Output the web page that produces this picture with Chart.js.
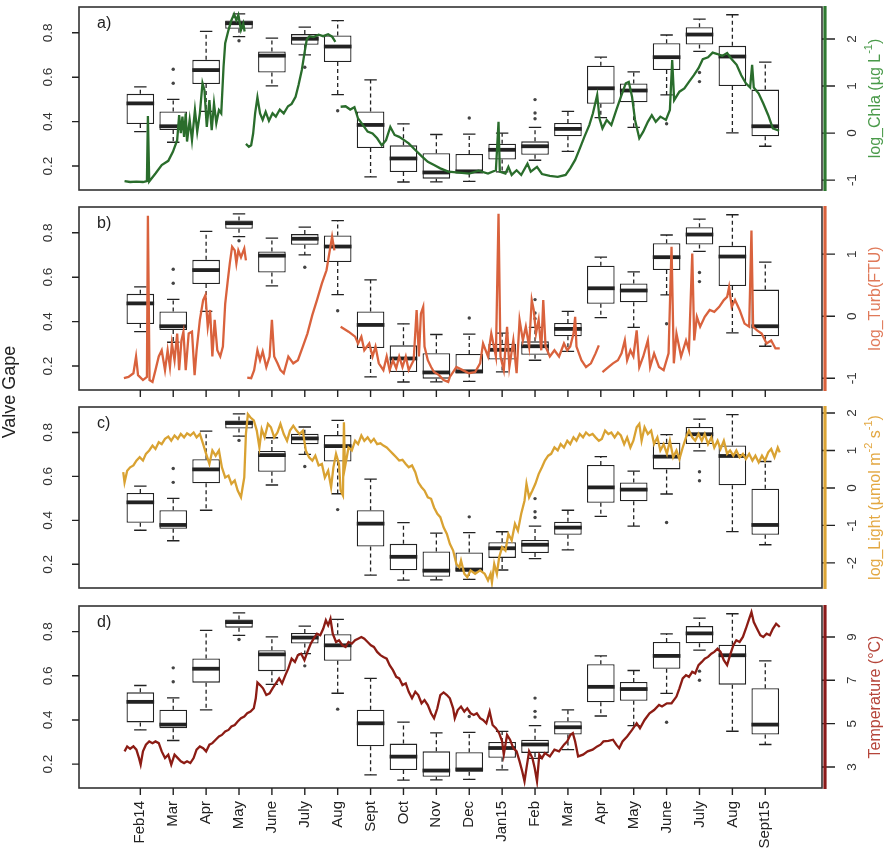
<!DOCTYPE html>
<html>
<head>
<meta charset="utf-8">
<script src="https://cdn.jsdelivr.net/npm/chart.js@4.4.0/dist/chart.umd.min.js"></script>
<style>
  body { margin: 0; background: #fff; }
  #wrap { position: relative; width: 893px; height: 862px; overflow: hidden; }
  .panel { position: absolute; left: 0; width: 893px; }
  #gapeLabel {
    position: absolute; left: -50px; top: 381px; width: 120px; height: 22px;
    line-height: 22px; text-align: center; transform: rotate(-90deg);
    font: 18px "Liberation Sans", Arial, sans-serif; color: #222;
  }
</style>
</head>
<body>
<div id="wrap">
  <div class="panel" style="top:0"><canvas id="chartA" width="893" height="200"></canvas></div>
  <div class="panel" style="top:200px"><canvas id="chartB" width="893" height="200"></canvas></div>
  <div class="panel" style="top:400px"><canvas id="chartC" width="893" height="200"></canvas></div>
  <div class="panel" style="top:600px"><canvas id="chartD" width="893" height="262"></canvas></div>
  <div id="gapeLabel">Valve Gape</div>
</div>
<script>
const FONT = '"Liberation Sans", Arial, sans-serif';

// Monthly valve gape boxplots (same in all panels)
const months = ['Feb14', 'Mar', 'Apr', 'May', 'June', 'July', 'Aug', 'Sept', 'Oct', 'Nov',
                'Dec', 'Jan15', 'Feb', 'Mar', 'Apr', 'May', 'June', 'July', 'Aug', 'Sept15'];
const gapeMin    = [0.355, 0.307, 0.446, 0.783, 0.561, 0.700, 0.521, 0.151, 0.128, 0.129,
                    0.131, 0.174, 0.226, 0.266, 0.418, 0.374, 0.520, 0.716, 0.349, 0.289];
const gapeQ1     = [0.389, 0.362, 0.569, 0.818, 0.621, 0.746, 0.668, 0.281, 0.173, 0.143,
                    0.166, 0.229, 0.251, 0.334, 0.480, 0.487, 0.632, 0.747, 0.560, 0.334];
const gapeMedian = [0.482, 0.379, 0.632, 0.843, 0.697, 0.773, 0.738, 0.385, 0.234, 0.171,
                    0.176, 0.273, 0.289, 0.367, 0.550, 0.540, 0.690, 0.792, 0.693, 0.379];
const gapeQ3     = [0.525, 0.446, 0.678, 0.855, 0.716, 0.794, 0.788, 0.446, 0.293, 0.258,
                    0.254, 0.300, 0.311, 0.394, 0.652, 0.572, 0.753, 0.825, 0.741, 0.544];
const gapeMax    = [0.556, 0.500, 0.806, 0.885, 0.776, 0.825, 0.855, 0.588, 0.390, 0.342,
                    0.344, 0.348, 0.374, 0.446, 0.690, 0.624, 0.790, 0.861, 0.881, 0.668];
const gapeOutliers = [[], [0.573, 0.636], [], [0.764], [], [0.645], [0.449], [], [], [],
                      [0.416], [], [0.413, 0.439, 0.499], [], [], [], [0.390], [0.580, 0.621], [], []];

const gapeTicks  = [0.2, 0.4, 0.6, 0.8];
const chlaTicks  = [-1, 0, 1, 2];
const turbTicks  = [-1, 0, 1];
const lightTicks = [-2, -1, 0, 1, 2];
const tempTicks  = [3, 5, 7, 9];

// Environmental series: [month position, value], null = no data
const chlaSeries = [
  [0.52, -1.02], [0.69, -1.04], [0.88, -1.03], [1.08, -1.04], [1.20, -1.02], [1.23, 0.36], [1.27, -1.03],
  [1.46, -0.86], [1.65, -0.68], [1.85, -0.59], [1.99, -0.40], [2.12, -0.15], [2.18, 0.38], [2.23, 0.00],
  [2.28, 0.35], [2.33, -0.08], [2.38, 0.42], [2.42, -0.18], [2.50, 0.28], [2.57, -0.15], [2.66, 0.49],
  [2.73, 0.03], [2.81, 0.42], [2.89, 1.06], [2.95, 0.91], [3.02, 0.13], [3.10, 0.70], [3.17, 0.06],
  [3.24, 0.63], [3.31, 0.21], [3.39, 0.49], [3.46, 0.42], [3.53, 1.41], [3.58, 1.91], [3.68, 2.19],
  [3.77, 2.40], [3.85, 2.53], [3.92, 2.40], [3.98, 2.51], [4.06, 2.19], [4.13, 2.33], [4.17, 2.16],
  [4.19, null],
  [4.21, -0.23], [4.30, -0.29], [4.37, -0.26], [4.43, -0.01], [4.49, 0.42], [4.56, 0.76], [4.64, 0.42],
  [4.72, 0.28], [4.81, 0.45], [4.91, 0.26], [5.02, 0.42], [5.12, 0.35], [5.24, 0.50], [5.36, 0.42],
  [5.49, 0.57], [5.60, 0.62], [5.72, 0.77], [5.81, 1.02], [5.91, 1.34], [5.99, 1.70], [6.06, 1.99],
  [6.14, 2.06], [6.27, 2.04], [6.42, 2.09], [6.56, 2.06], [6.71, 2.10], [6.83, 2.05], [6.93, 1.94],
  [7.00, null],
  [7.09, 0.56], [7.24, 0.57], [7.38, 0.50], [7.51, 0.55], [7.62, 0.31], [7.77, 0.17], [7.91, 0.03],
  [8.06, -0.01], [8.20, -0.11], [8.34, -0.26], [8.47, -0.15], [8.60, 0.13], [8.73, -0.04], [8.87, -0.08],
  [9.02, -0.15], [9.16, -0.22], [9.36, -0.36], [9.55, -0.49], [9.74, -0.61], [9.93, -0.68], [10.12, -0.75],
  [10.36, -0.82], [10.70, -0.84], [11.00, -0.86], [11.28, -0.80], [11.57, -0.86], [11.81, -0.79],
  [11.89, 0.24], [11.93, -0.82], [12.10, -0.86], [12.19, -0.72], [12.29, -0.89], [12.44, -0.79],
  [12.58, -0.89], [12.77, -0.65], [12.87, -0.82], [13.06, -0.72], [13.21, -0.87], [13.45, -0.91],
  [13.69, -0.93], [13.93, -0.89], [14.07, -0.75], [14.22, -0.57], [14.36, -0.33], [14.50, -0.08],
  [14.65, 0.17], [14.76, 0.42], [14.89, 0.81], [14.96, 0.31], [15.05, 0.10], [15.18, 0.28], [15.32, 0.17],
  [15.47, 0.49], [15.61, 0.77], [15.76, 1.06], [15.85, 1.09], [15.95, 0.77], [16.04, 0.28], [16.17, -0.11],
  [16.29, 0.03], [16.43, 0.24], [16.55, 0.38], [16.67, 0.24], [16.81, 0.35], [16.98, 0.28], [17.10, 0.49],
  [17.17, 1.55], [17.23, 0.70], [17.39, 0.88], [17.54, 0.95], [17.68, 1.09], [17.83, 1.23], [17.97, 1.38],
  [18.10, 1.57], [18.26, 1.61], [18.40, 1.71], [18.55, 1.68], [18.69, 1.64], [18.84, 1.70], [18.98, 1.57],
  [19.13, 1.45], [19.27, 1.23], [19.41, 1.06], [19.54, 0.97], [19.60, 1.45], [19.65, 0.97], [19.80, 0.84],
  [19.94, 0.63], [20.09, 0.38], [20.23, 0.10], [20.42, 0.05]
];

const turbSeries = [
  [0.50, -1.00], [0.64, -0.98], [0.79, -0.92], [0.87, -0.65], [0.93, -0.95], [1.08, -1.03], [1.20, -0.98],
  [1.23, 1.62], [1.28, -1.03], [1.37, -1.06], [1.46, -0.87], [1.56, -0.65], [1.65, -0.55], [1.75, -0.87],
  [1.83, -0.55], [1.90, -0.82], [1.96, -0.44], [2.04, -0.71], [2.12, -0.28], [2.18, -0.87], [2.25, -0.39],
  [2.31, -0.25], [2.38, -0.87], [2.47, -0.28], [2.57, -0.25], [2.65, -0.95], [2.71, -0.55], [2.81, -0.06],
  [2.91, 0.26], [2.98, 0.34], [3.05, -0.17], [3.12, 0.10], [3.19, -0.65], [3.26, -0.06], [3.34, -0.55],
  [3.43, -0.65], [3.51, -0.49], [3.58, 0.20], [3.66, 0.58], [3.72, 0.85], [3.79, 1.12], [3.87, 1.06],
  [3.92, 0.85], [3.98, 1.06], [4.06, 0.95], [4.16, 1.09], [4.21, 0.90],
  [4.23, null],
  [4.25, -0.99], [4.37, -1.00], [4.46, -0.87], [4.56, -0.55], [4.64, -0.71], [4.72, -0.57], [4.83, -0.82],
  [4.93, -0.65], [5.00, -0.06], [5.07, -0.65], [5.17, -0.76], [5.26, -0.87], [5.36, -0.92], [5.50, -0.65],
  [5.65, -0.76], [5.79, -0.71], [5.94, -0.49], [6.08, -0.28], [6.23, 0.02], [6.37, 0.26], [6.52, 0.53],
  [6.66, 0.74], [6.76, 1.06], [6.83, 1.28], [6.90, 1.06],
  [7.00, null],
  [7.09, -0.17], [7.33, -0.25], [7.53, -0.33], [7.62, -0.44], [7.72, -0.33], [7.81, -0.55], [7.96, -0.44],
  [8.06, -0.65], [8.15, -0.49], [8.25, -0.76], [8.39, -0.87], [8.49, -0.65], [8.58, -0.87], [8.68, -0.71],
  [8.78, -0.84], [8.87, -0.65], [8.97, -0.82], [9.07, -0.65], [9.16, -0.87], [9.31, -0.71], [9.40, 0.10],
  [9.47, -0.65], [9.53, 0.04], [9.60, 0.15], [9.64, -0.49], [9.74, -0.71], [9.84, -0.82], [9.93, -0.90],
  [10.08, -0.95], [10.22, -1.03], [10.36, -1.06], [10.41, -0.98], [10.61, -0.82], [10.80, -0.87],
  [10.99, -0.92], [11.18, -0.90], [11.33, -0.76], [11.42, -0.44], [11.57, -0.65], [11.67, -0.28],
  [11.81, -0.65], [11.89, 1.65], [11.95, -0.65], [12.05, -0.87], [12.15, -0.17], [12.22, -0.82],
  [12.34, -0.39], [12.44, -0.92], [12.53, -0.06], [12.63, -0.39], [12.72, -0.17], [12.82, -0.49],
  [12.90, 0.26], [12.96, 0.10], [13.03, -0.28], [13.11, -0.06], [13.19, -0.55], [13.25, 0.26],
  [13.32, -0.49], [13.45, -0.65], [13.59, -0.55], [13.73, -0.65], [13.88, -0.44], [13.98, -0.55],
  [14.07, -0.49], [14.17, -0.28], [14.22, -0.01], [14.26, -0.49], [14.41, -0.71], [14.55, -0.82],
  [14.70, -0.76], [14.84, -0.60], [14.94, -0.47],
  [15.00, null],
  [15.05, -0.90], [15.23, -0.82], [15.37, -0.76], [15.52, -0.71], [15.63, -0.60], [15.73, -0.39],
  [15.80, -0.71], [15.90, -0.55], [15.99, -0.65], [16.09, -0.23], [16.17, -0.82], [16.29, -0.65],
  [16.43, -0.39], [16.50, -0.82], [16.62, -0.60], [16.77, -0.82], [16.91, -0.87], [17.06, -0.60],
  [17.15, 1.12], [17.22, -0.76], [17.30, -0.28], [17.44, -0.65], [17.59, -0.39], [17.68, -0.55],
  [17.78, 1.01], [17.84, -0.39], [17.92, -0.01], [18.02, -0.17], [18.16, -0.01], [18.31, 0.10],
  [18.45, 0.07], [18.60, 0.15], [18.74, 0.26], [18.84, 0.31], [18.90, 0.47], [18.98, 0.15], [19.08, 0.26],
  [19.22, 0.10], [19.37, -0.12], [19.51, -0.17], [19.58, 1.38], [19.63, -0.17], [19.75, -0.23],
  [19.89, -0.28], [20.04, -0.44], [20.18, -0.39], [20.31, -0.52], [20.44, -0.52]
];

const lightSeries = [
  [0.48, 0.42], [0.52, 0.15], [0.60, 0.46], [0.69, 0.55], [0.79, 0.60], [0.88, 0.73], [0.98, 0.82],
  [1.08, 0.73], [1.17, 0.91], [1.27, 1.00], [1.37, 1.13], [1.46, 1.04], [1.56, 1.22], [1.65, 1.17],
  [1.75, 1.31], [1.85, 1.37], [1.94, 1.26], [2.04, 1.40], [2.14, 1.31], [2.23, 1.44], [2.33, 1.35],
  [2.42, 1.46], [2.52, 1.40], [2.62, 1.48], [2.71, 1.35], [2.81, 1.44], [2.91, 1.17], [3.00, 0.91],
  [3.10, 0.64], [3.19, 1.00], [3.29, 0.86], [3.39, 1.00], [3.48, 0.55], [3.58, 0.28], [3.68, 0.33],
  [3.77, 0.11], [3.87, 0.20], [3.96, -0.07], [4.06, -0.25], [4.11, 0.02], [4.16, 0.28], [4.21, 1.44],
  [4.27, 1.97], [4.35, 1.88], [4.45, 1.80], [4.54, 1.53], [4.62, 1.08], [4.69, 1.57], [4.78, 1.35],
  [4.88, 1.71], [4.97, 1.62], [5.07, 1.35], [5.17, 1.48], [5.26, 1.71], [5.36, 1.44], [5.46, 1.26],
  [5.55, 1.53], [5.65, 1.66], [5.75, 1.53], [5.84, 1.44], [5.94, 1.53], [6.03, 1.00], [6.13, 0.82],
  [6.23, 0.73], [6.32, 0.86], [6.42, 0.60], [6.52, 0.64], [6.61, 0.28], [6.71, 0.46], [6.80, 0.02],
  [6.87, 0.55], [6.95, 0.91], [7.04, 0.64], [7.09, -0.07], [7.16, -0.20], [7.19, 1.75], [7.22, 0.55],
  [7.33, 1.08], [7.43, 1.00], [7.53, 1.26], [7.62, 1.17], [7.72, 1.40], [7.81, 1.26], [7.91, 1.35],
  [8.01, 1.22], [8.10, 1.31], [8.20, 1.17], [8.30, 1.19], [8.39, 1.13], [8.49, 1.08], [8.58, 1.00],
  [8.68, 0.91], [8.78, 0.82], [8.87, 0.73], [8.97, 0.75], [9.07, 0.64], [9.16, 0.55], [9.26, 0.60],
  [9.36, 0.42], [9.45, 0.15], [9.55, 0.02], [9.64, -0.07], [9.74, -0.25], [9.84, -0.29], [9.93, -0.52],
  [10.03, -0.69], [10.12, -0.78], [10.22, -1.05], [10.32, -1.23], [10.41, -1.49], [10.51, -1.67],
  [10.61, -2.03], [10.70, -2.12], [10.75, -1.94], [10.85, -2.29], [10.94, -2.38], [11.04, -2.20],
  [11.18, -2.29], [11.33, -2.20], [11.47, -2.29], [11.57, -2.47], [11.65, -2.29], [11.69, -2.52],
  [11.76, -2.03], [11.84, -2.29], [11.91, -1.85], [12.00, -1.58], [12.10, -1.67], [12.19, -1.23],
  [12.29, -1.40], [12.39, -0.96], [12.48, -1.14], [12.58, -0.69], [12.68, -0.34], [12.74, 0.11],
  [12.82, -0.25], [12.92, -0.07], [13.01, 0.11], [13.11, 0.37], [13.21, 0.55], [13.30, 0.73],
  [13.40, 0.86], [13.49, 0.91], [13.59, 1.08], [13.69, 1.00], [13.78, 1.17], [13.88, 1.08], [13.98, 1.26],
  [14.07, 1.17], [14.17, 1.35], [14.26, 1.26], [14.36, 1.44], [14.46, 1.35], [14.55, 1.48], [14.65, 1.40],
  [14.75, 1.44], [14.84, 1.35], [14.94, 1.26], [15.03, 1.31], [15.13, 1.53], [15.23, 1.44], [15.32, 1.48],
  [15.42, 1.35], [15.52, 1.48], [15.61, 1.40], [15.71, 1.17], [15.80, 1.35], [15.90, 1.08], [15.99, 1.26],
  [16.09, 1.62], [16.17, 1.71], [16.24, 1.26], [16.33, 1.62], [16.43, 1.44], [16.53, 1.53], [16.62, 1.17],
  [16.72, 1.35], [16.81, 1.00], [16.91, 1.17], [17.01, 0.91], [17.10, 1.26], [17.20, 0.82], [17.30, 1.00],
  [17.39, 0.77], [17.49, 1.08], [17.59, 1.35], [17.68, 1.53], [17.78, 1.35], [17.87, 1.26], [17.97, 1.44],
  [18.07, 1.26], [18.16, 1.44], [18.26, 1.17], [18.36, 1.35], [18.45, 1.08], [18.55, 1.26], [18.64, 1.04],
  [18.74, 1.26], [18.84, 0.91], [18.93, 1.00], [19.03, 0.86], [19.12, 1.00], [19.22, 0.82], [19.32, 0.91],
  [19.41, 0.77], [19.51, 0.91], [19.61, 0.73], [19.70, 0.86], [19.80, 0.68], [19.90, 0.86], [19.99, 0.73],
  [20.09, 0.95], [20.18, 1.04], [20.28, 0.82], [20.38, 1.08], [20.44, 0.95]
];

const tempSeries = [
  [0.52, 3.72], [0.60, 3.95], [0.69, 3.84], [0.79, 3.95], [0.88, 3.80], [0.96, 3.41], [1.01, 3.11],
  [1.08, 3.72], [1.17, 4.03], [1.27, 4.18], [1.37, 4.10], [1.46, 4.18], [1.56, 4.10], [1.65, 3.72],
  [1.75, 3.41], [1.85, 3.57], [1.94, 3.11], [2.04, 3.57], [2.14, 3.41], [2.23, 3.26], [2.33, 3.18],
  [2.42, 3.26], [2.52, 3.18], [2.62, 3.41], [2.71, 3.80], [2.81, 3.95], [2.91, 3.87], [3.00, 3.72],
  [3.10, 4.03], [3.19, 4.10], [3.29, 4.26], [3.39, 4.41], [3.48, 4.48], [3.58, 4.64], [3.68, 4.71],
  [3.77, 4.87], [3.87, 4.94], [3.96, 5.10], [4.06, 5.25], [4.16, 5.33], [4.25, 5.48], [4.35, 5.56],
  [4.45, 5.71], [4.51, 6.17], [4.56, 6.90], [4.64, 6.78], [4.73, 6.63], [4.83, 6.32], [4.93, 6.40],
  [5.02, 6.63], [5.12, 6.86], [5.22, 7.09], [5.31, 6.86], [5.41, 7.24], [5.50, 7.55], [5.60, 8.00],
  [5.70, 7.85], [5.79, 8.16], [5.89, 8.23], [5.99, 7.93], [6.08, 8.31], [6.18, 8.69], [6.27, 8.92],
  [6.37, 9.15], [6.47, 9.08], [6.56, 9.38], [6.64, 9.77], [6.71, 9.54], [6.78, 9.84], [6.85, 9.15],
  [6.95, 8.77], [7.04, 8.85], [7.14, 8.62], [7.24, 8.54], [7.33, 8.77], [7.43, 8.69], [7.53, 8.85],
  [7.62, 8.92], [7.72, 9.00], [7.81, 8.92], [7.91, 8.77], [8.01, 8.62], [8.10, 8.54], [8.20, 8.31],
  [8.30, 8.16], [8.39, 8.08], [8.49, 8.00], [8.58, 7.70], [8.68, 7.47], [8.78, 7.16], [8.87, 7.09],
  [8.97, 6.78], [9.07, 6.86], [9.16, 6.47], [9.26, 6.17], [9.36, 6.47], [9.45, 6.32], [9.55, 5.94],
  [9.64, 6.09], [9.74, 5.86], [9.84, 5.48], [9.93, 5.25], [10.03, 5.71], [10.12, 6.32], [10.22, 6.44],
  [10.32, 6.32], [10.41, 6.17], [10.51, 5.71], [10.56, 5.25], [10.65, 5.63], [10.75, 5.79], [10.85, 5.56],
  [10.94, 5.71], [11.04, 5.48], [11.14, 5.40], [11.23, 5.48], [11.33, 5.25], [11.42, 5.17], [11.52, 5.02],
  [11.62, 5.56], [11.71, 4.94], [11.81, 4.79], [11.91, 4.56], [12.00, 4.18], [12.05, 3.57], [12.15, 4.48],
  [12.24, 4.26], [12.34, 3.87], [12.44, 3.72], [12.53, 3.26], [12.61, 2.80], [12.68, 2.34], [12.74, 2.95],
  [12.82, 3.72], [12.92, 3.41], [12.99, 2.95], [13.06, 2.34], [13.13, 3.57], [13.21, 3.41], [13.30, 3.64],
  [13.45, 3.49], [13.59, 3.80], [13.73, 3.72], [13.88, 4.03], [13.98, 4.18], [14.07, 4.48], [14.15, 4.56],
  [14.22, 4.18], [14.31, 3.49], [14.46, 3.57], [14.60, 3.72], [14.75, 3.80], [14.89, 3.95], [14.99, 4.03],
  [15.08, 4.18], [15.23, 4.21], [15.37, 4.26], [15.47, 4.03], [15.56, 3.87], [15.66, 4.18], [15.80, 4.41],
  [15.95, 4.71], [16.09, 5.02], [16.19, 4.79], [16.33, 5.17], [16.48, 5.48], [16.62, 5.63], [16.77, 5.86],
  [16.86, 5.79], [17.01, 5.94], [17.15, 5.94], [17.30, 6.25], [17.39, 6.63], [17.49, 7.09], [17.59, 7.24],
  [17.68, 7.16], [17.78, 7.39], [17.87, 7.32], [17.97, 7.70], [18.07, 7.85], [18.16, 8.00], [18.26, 8.08],
  [18.36, 8.23], [18.45, 8.31], [18.55, 8.46], [18.64, 8.31], [18.74, 7.93], [18.84, 7.70], [18.93, 8.16],
  [19.03, 8.62], [19.12, 8.85], [19.22, 8.77], [19.32, 9.00], [19.41, 9.38], [19.51, 9.84], [19.58, 10.15],
  [19.65, 9.69], [19.75, 9.38], [19.85, 9.08], [19.94, 9.00], [20.04, 9.15], [20.14, 9.08], [20.23, 9.38],
  [20.33, 9.61], [20.44, 9.46]
];

// Whiskers, caps and medians drawn right after the box dataset
const boxWhiskers = {
  id: 'boxWhiskers',
  afterDatasetDraw(chart, args) {
    if (args.meta.type !== 'bar') return;
    const { ctx } = chart;
    const x = chart.scales.x, y = chart.scales.y;
    ctx.save();
    args.meta.data.forEach((bar, i) => {
      const cx = x.getPixelForValue(i + 1);
      const half = bar.width / 2;
      const cap = half * 0.45;
      const pMin = y.getPixelForValue(gapeMin[i]);
      const pQ1 = y.getPixelForValue(gapeQ1[i]);
      const pMed = y.getPixelForValue(gapeMedian[i]);
      const pQ3 = y.getPixelForValue(gapeQ3[i]);
      const pMax = y.getPixelForValue(gapeMax[i]);
      ctx.strokeStyle = '#222';
      ctx.lineWidth = 1.3;
      ctx.setLineDash([4, 3]);
      ctx.beginPath();
      ctx.moveTo(cx, pQ3); ctx.lineTo(cx, pMax);
      ctx.moveTo(cx, pQ1); ctx.lineTo(cx, pMin);
      ctx.stroke();
      ctx.setLineDash([]);
      ctx.beginPath();
      ctx.moveTo(cx - cap, pMax); ctx.lineTo(cx + cap, pMax);
      ctx.moveTo(cx - cap, pMin); ctx.lineTo(cx + cap, pMin);
      ctx.stroke();
      ctx.lineWidth = 3.8;
      ctx.beginPath();
      ctx.moveTo(cx - half, pMed); ctx.lineTo(cx + half, pMed);
      ctx.stroke();
    });
    ctx.restore();
  }
};

function drawRotated(ctx, parts, cx, cy, size, color) {
  ctx.save();
  ctx.translate(cx, cy);
  ctx.rotate(-Math.PI / 2);
  ctx.fillStyle = color;
  ctx.textBaseline = 'middle';
  ctx.textAlign = 'left';
  const big = size + 'px ' + FONT;
  const small = Math.round(size * 0.68) + 'px ' + FONT;
  let total = 0;
  parts.forEach(p => { ctx.font = p[1] ? small : big; total += ctx.measureText(p[0]).width; });
  let px = -total / 2;
  parts.forEach(p => {
    ctx.font = p[1] ? small : big;
    ctx.fillText(p[0], px, p[1] ? -size * 0.42 : 0);
    px += ctx.measureText(p[0]).width;
  });
  ctx.restore();
}

// Frame, tick marks, coloured right axis, panel letter, rotated tick labels and right title
const panelDecor = {
  id: 'panelDecor',
  afterDraw(chart, args, opts) {
    const { ctx, chartArea: a } = chart;
    const x = chart.scales.x, y = chart.scales.y, y2 = chart.scales.y2;
    ctx.save();
    ctx.strokeStyle = '#333';
    ctx.lineWidth = 1.6;
    ctx.strokeRect(a.left, a.top, a.right - a.left, a.bottom - a.top);

    // tick marks
    ctx.strokeStyle = '#222';
    ctx.lineWidth = 1.4;
    ctx.beginPath();
    gapeTicks.forEach(v => {
      const py = y.getPixelForValue(v);
      ctx.moveTo(a.left - 7, py); ctx.lineTo(a.left, py);
    });
    opts.ticks.forEach(v => {
      const py = y2.getPixelForValue(v);
      ctx.moveTo(a.right, py); ctx.lineTo(a.right + 13, py);
    });
    if (opts.xTicks) {
      months.forEach((m, i) => {
        const px = x.getPixelForValue(i + 1);
        ctx.moveTo(px, a.bottom); ctx.lineTo(px, a.bottom + 7);
      });
    }
    ctx.stroke();

    ctx.strokeStyle = opts.axisColor;
    ctx.lineWidth = 3.2;
    ctx.beginPath();
    ctx.moveTo(a.right + 3, a.top - 1);
    ctx.lineTo(a.right + 3, a.bottom + 1);
    ctx.stroke();

    ctx.fillStyle = '#222';
    ctx.font = '16px ' + FONT;
    ctx.textAlign = 'left';
    ctx.textBaseline = 'top';
    ctx.fillText(opts.label, a.left + 18, a.top + 9);
    gapeTicks.forEach(v => drawRotated(ctx, [[v.toFixed(1), 0]], 48, y.getPixelForValue(v), 13.5, '#333'));
    opts.ticks.forEach(v => drawRotated(ctx, [[String(v), 0]], 852, y2.getPixelForValue(v), 13.5, '#333'));
    drawRotated(ctx, opts.title, 876, (a.top + a.bottom) / 2, 16, opts.titleColor);
    ctx.restore();
  }
};

function makePanel(id, cfg) {
  const outliers = [];
  gapeOutliers.forEach((list, i) => list.forEach(v => outliers.push({ x: i + 1, y: v })));
  return new Chart(document.getElementById(id), {
    type: 'bar',
    data: {
      datasets: [
        {
          type: 'line',
          data: cfg.series.map(p => ({ x: p[0], y: p[1] })),
          yAxisID: 'y2',
          borderColor: cfg.lineColor,
          borderWidth: 2.3,
          pointRadius: 0,
          spanGaps: false,
          tension: 0,
          order: 1
        },
        {
          type: 'scatter',
          data: outliers,
          yAxisID: 'y',
          pointRadius: 1.7,
          pointBackgroundColor: '#444',
          pointBorderWidth: 0,
          order: 2
        },
        {
          type: 'bar',
          data: months.map((m, i) => ({ x: i + 1, y: [gapeQ1[i], gapeQ3[i]] })),
          yAxisID: 'y',
          backgroundColor: '#fff',
          borderColor: '#222',
          borderWidth: 1.3,
          borderSkipped: false,
          barPercentage: 0.84,
          categoryPercentage: 1,
          order: 3
        }
      ]
    },
    options: {
      responsive: false,
      animation: false,
      layout: { padding: { top: cfg.padTop, left: 0, right: 0, bottom: 0 } },
      plugins: {
        legend: { display: false },
        tooltip: { enabled: false },
        panelDecor: {
          label: cfg.label,
          axisColor: cfg.axisColor,
          title: cfg.title,
          titleColor: cfg.titleColor,
          ticks: cfg.ticks,
          xTicks: cfg.xTicks
        }
      },
      scales: {
        x: {
          type: 'linear',
          min: -0.30,
          max: 21.16,
          afterBuildTicks: s => { s.ticks = months.map((m, i) => ({ value: i + 1 })); },
          afterFit: s => { s.height = cfg.xHeight; },
          border: { display: false },
          grid: { display: false, drawTicks: false },
          ticks: {
            display: cfg.xLabels,
            autoSkip: false,
            minRotation: 90,
            maxRotation: 90,
            padding: 13,
            color: '#222',
            font: { family: FONT, size: 15 },
            callback: v => months[Math.round(v) - 1]
          }
        },
        y: {
          position: 'left',
          min: 0.092,
          max: 0.916,
          afterBuildTicks: s => { s.ticks = gapeTicks.map(v => ({ value: v })); },
          afterFit: s => { s.width = 79; },
          border: { display: false },
          grid: { display: false },
          ticks: { display: false }
        },
        y2: {
          position: 'right',
          min: cfg.yMin,
          max: cfg.yMax,
          afterBuildTicks: s => { s.ticks = cfg.ticks.map(v => ({ value: v })); },
          afterFit: s => { s.width = 71; },
          border: { display: false },
          grid: { display: false },
          ticks: { display: false }
        }
      }
    },
    plugins: [boxWhiskers, panelDecor]
  });
}

makePanel('chartA', {
  label: 'a)', series: chlaSeries, ticks: chlaTicks, yMin: -1.21, yMax: 2.68,
  lineColor: '#2a6d2c', axisColor: '#2f7a31', titleColor: '#4a9a4a',
  title: [['log_Chla (µg L', 0], ['-1', 1], [')', 0]],
  padTop: 7, xHeight: 10, xTicks: false, xLabels: false
});
makePanel('chartB', {
  label: 'b)', series: turbSeries, ticks: turbTicks, yMin: -1.19, yMax: 1.76,
  lineColor: '#d9623d', axisColor: '#d9623d', titleColor: '#e07a5a',
  title: [['log_Turb(FTU)', 0]],
  padTop: 7, xHeight: 10, xTicks: true, xLabels: false
});
makePanel('chartC', {
  label: 'c)', series: lightSeries, ticks: lightTicks, yMin: -2.67, yMax: 2.16,
  lineColor: '#d9a232', axisColor: '#dca536', titleColor: '#e3a843',
  title: [['log_Light (µmol m', 0], ['-2', 1], [' s', 0], ['-1', 1], [')', 0]],
  padTop: 7, xHeight: 12, xTicks: false, xLabels: false
});
makePanel('chartD', {
  label: 'd)', series: tempSeries, ticks: tempTicks, yMin: 2.03, yMax: 10.43,
  lineColor: '#8c1c14', axisColor: '#8b1a1a', titleColor: '#b5453a',
  title: [['Temperature (°C)', 0]],
  padTop: 6, xHeight: 74, xTicks: true, xLabels: true
});
</script>
</body>
</html>
